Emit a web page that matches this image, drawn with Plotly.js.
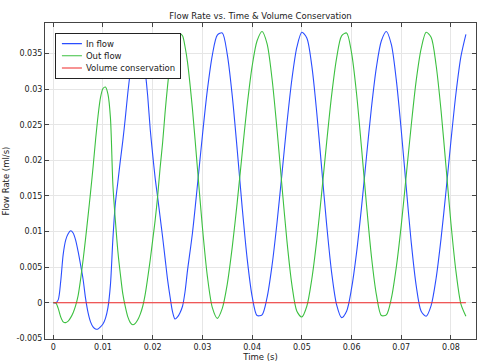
<!DOCTYPE html>
<html>
<head>
<meta charset="utf-8">
<script src="https://cdn.plot.ly/plotly-3.0.1.min.js"></script>
<style>html,body{margin:0;padding:0;background:#fff;}#chart{width:483px;height:364px;}</style>
</head>
<body>
<div id="chart"></div>
<script>
// Time (s)
const time = [0,0.0005,0.001,0.0015,0.002,0.0025,0.003,0.0035,0.004,0.0045,0.005,0.0055,0.006,0.0065,0.007,0.0075,0.008,0.0085,0.009,0.0095,0.01,0.0105,0.011,0.0115,0.012,0.0125,0.013,0.0135,0.014,0.0145,0.015,0.0155,0.016,0.0165,0.017,0.0175,0.018,0.0185,0.019,0.0195,0.02,0.0205,0.021,0.0215,0.022,0.0225,0.023,0.0235,0.024,0.0245,0.025,0.0255,0.026,0.0265,0.027,
0.028,0.029,0.030,0.031,0.032,0.033,0.034,0.035,0.036,0.037,0.038,0.039,0.040,0.041,0.042,0.043,0.044,0.045,0.046,0.047,0.048,0.049,0.050,0.051,0.052,0.053,0.054,0.055,0.056,0.057,0.058,0.059,0.060,0.061,0.062,0.063,0.064,0.065,0.066,0.067,0.068,0.069,0.070,0.071,0.072,0.073,0.074,0.075,0.076,0.077,0.078,0.079,0.080,0.081,0.082,0.083];

// In flow (ml/s)
const inFlow = [0,0,0.0004,0.0030,0.0068,0.0088,0.0097,0.0101,0.0098,0.0088,0.0072,0.0053,0.0033,0.0006,-0.0014,-0.0027,-0.0034,-0.0037,-0.0037,-0.0034,-0.0030,-0.0022,-0.0007,0.0025,0.0090,0.0140,0.0170,0.0200,0.0228,0.0260,0.0295,0.0325,0.0352,0.0370,0.0376,0.0369,0.0352,0.0325,0.0290,0.0244,0.0208,0.0175,0.0148,0.0120,0.0092,0.0062,0.0032,0.0008,-0.0013,-0.0023,-0.0020,-0.0014,-0.0005,0.0015,0.0045,
0.0098,0.0165,0.0235,0.0299,0.0348,0.0376,0.0379,0.0349,0.0291,0.0215,0.0134,0.0062,0.0009,-0.0018,-0.0017,0.0007,0.0052,0.0112,0.0181,0.0252,0.0314,0.0359,0.0380,0.0372,0.0333,0.0267,0.0188,0.0109,0.0042,-0.0003,-0.0021,-0.0012,0.0020,0.0070,0.0134,0.0205,0.0274,0.0331,0.0368,0.0381,0.0363,0.0313,0.0242,0.0162,0.0085,0.0024,-0.0012,-0.0019,-0.0004,0.0034,0.0090,0.0157,0.0228,0.0294,0.0346,0.0377];

// Out flow (ml/s)
const outFlow = [0,0,-0.0008,-0.0020,-0.0027,-0.0028,-0.0026,-0.0021,-0.0014,-0.0004,0.0010,0.0033,0.0060,0.0090,0.0122,0.0155,0.0190,0.0228,0.0262,0.0288,0.0301,0.0303,0.0293,0.0260,0.0165,0.0115,0.0072,0.0040,0.0012,-0.0006,-0.0020,-0.0028,-0.0031,-0.0029,-0.0024,-0.0016,-0.0005,0.0012,0.0035,0.0060,0.0088,0.0116,0.0150,0.0190,0.0225,0.0268,0.0305,0.0335,0.0356,0.0368,0.0375,0.0378,0.0375,0.0360,0.0338,
0.0272,0.0189,0.0106,0.0037,-0.0007,-0.0022,-0.0008,0.0026,0.0078,0.0141,0.0210,0.0277,0.0332,0.0368,0.0381,0.0364,0.0315,0.0244,0.0164,0.0087,0.0025,-0.0012,-0.0020,-0.0005,0.0033,0.0088,0.0155,0.0226,0.0292,0.0344,0.0375,0.0379,0.0351,0.0294,0.0218,0.0138,0.0065,0.0011,-0.0018,-0.0017,0.0006,0.0050,0.0109,0.0179,0.0249,0.0312,0.0357,0.0380,0.0373,0.0334,0.0270,0.0191,0.0111,0.0044,-0.0002,-0.0019];

// Volume conservation (ml/s)
const volCons = [0,0,0,0,0,0,0,0,0,0,0,0,0,0,0,0,0,0,0,0,0,0,0,0,0,0,0,0,0,0,0,0,0,0,0,0,0,0,0,0,0,0,0,0,0,0,0,0,0,0,0,0,0,0,0,
0,0,0,0,0,0,0,0,0,0,0,0,0,0,0,0,0,0,0,0,0,0,0,0,0,0,0,0,0,0,0,0,0,0,0,0,0,0,0,0,0,0,0,0,0,0,0,0,0,0,0,0,0,0,0,0];

const seriesNames = ["In flow", "Out flow", "Volume conservation"];
const xTickVals = [0,0.01,0.02,0.03,0.04,0.05,0.06,0.07,0.08];
const xTickText = ["0","0.01","0.02","0.03","0.04","0.05","0.06","0.07","0.08"];
const yTickVals = [-0.005,0,0.005,0.01,0.015,0.02,0.025,0.03,0.035];
const yTickText = ["-0.005","0","0.005","0.01","0.015","0.02","0.025","0.03","0.035"];

const FONT = "DejaVu Sans, sans-serif";
const colors = ["#2a4dff", "#3cc040", "#f02828"];
const ys = [inFlow, outFlow, volCons];

const traces = ys.map((y, i) => ({
  x: time, y: y, type: "scatter", mode: "lines", name: seriesNames[i],
  line: {color: colors[i], width: 1.1, shape: "spline", smoothing: 0.8}
}));

const axisCommon = {
  showline: true, linecolor: "#444", linewidth: 1, mirror: "ticks",
  ticks: "inside", ticklen: 4, tickcolor: "#444", tickwidth: 1,
  showgrid: true, gridcolor: "#e6e6e6", gridwidth: 1, zeroline: false,
  tickfont: {family: FONT, size: 8, color: "#222"}
};

const layout = {
  width: 483, height: 364,
  margin: {l: 45, r: 7, t: 23, b: 25},
  paper_bgcolor: "#fff", plot_bgcolor: "#fff",
  font: {family: FONT, size: 8.5, color: "#222"},
  title: {text: "Flow Rate vs. Time & Volume Conservation", font: {family: FONT, size: 8.5, color: "#222"},
          x: 0.5, xref: "paper", y: 1 - 16/364, yref: "container", yanchor: "middle"},
  xaxis: Object.assign({}, axisCommon, {
    range: [-0.00166, 0.08503], tickvals: xTickVals, ticktext: xTickText,
    title: {text: "Time (s)", font: {family: FONT, size: 8.5, color: "#222"}, standoff: 0}
  }),
  yaxis: Object.assign({}, axisCommon, {
    range: [-0.0051, 0.0393], tickvals: yTickVals, ticktext: yTickText,
    title: {text: "Flow Rate (ml/s)", font: {family: FONT, size: 8.5, color: "#222"}, standoff: 5}
  }),
  showlegend: true,
  legend: {x: 0.023, y: 0.968, xanchor: "left", yanchor: "top",
           bgcolor: "#fff", bordercolor: "#222", borderwidth: 1.3,
           font: {family: FONT, size: 8.5, color: "#222"}, tracegroupgap: 0}
};

Plotly.newPlot("chart", traces, layout, {displayModeBar: false, staticPlot: true}).then(function (gd) {
  // Compact the legend rows (Plotly enforces a tall minimum row height)
  const leg = gd.querySelector(".legend");
  if (!leg) return;
  const rowTop = 10.5, rowStep = 12.2, textX = 31;
  let maxRight = 0;
  leg.querySelectorAll(".traces").forEach(function (g, i) {
    g.setAttribute("transform", "translate(0," + (rowTop + i * rowStep) + ")");
    g.querySelectorAll(".legendlines path").forEach(function (p) { p.setAttribute("d", "M7,0h20"); });
    const t = g.querySelector("text.legendtext");
    if (t) {
      t.setAttribute("x", textX);
      try { maxRight = Math.max(maxRight, textX + t.getComputedTextLength()); } catch (e) {}
    }
  });
  const sb = leg.querySelector(".scrollbox");
  if (sb) sb.setAttribute("transform", "translate(0,0)");
  const bg = leg.querySelector("rect.bg");
  if (bg) {
    bg.setAttribute("width", Math.round(maxRight + 5));
    bg.setAttribute("height", Math.round(rowTop + 2 * rowStep + 10.5));
  }
});
</script>
</body>
</html>
